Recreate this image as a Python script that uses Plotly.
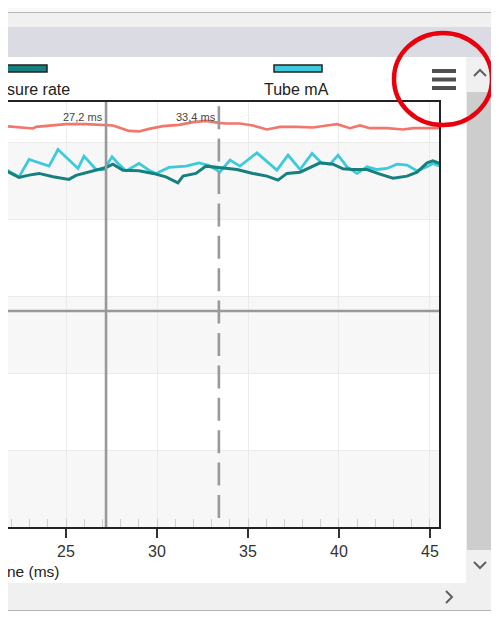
import plotly.graph_objects as go

# ---------------- data ----------------
series_names = ["Exposure rate", "Tube mA"]
legend_visible_text = ["sure rate", "Tube mA"]
x_title_visible = "ne (ms)"
x_ticks = [25, 30, 35, 40, 45]
cursor_times = [27.2, 33.4]
cursor_labels = ["27,2 ms", "33,4 ms"]

red_t = [21.70, 22.42, 23.19, 23.35, 24.29, 25.00, 26.10, 27.03, 27.58, 27.91, 28.46, 29.01,
         29.56, 30.33, 31.21, 31.98, 32.69, 33.41, 33.79, 34.56, 35.27, 36.04, 36.76, 37.69,
         38.57, 39.34, 39.89, 40.60, 41.15, 41.70, 42.64, 43.52, 44.07, 45.16, 45.55]
red_v = [52.07, 51.90, 51.77, 51.98, 52.16, 52.33, 52.33, 52.24, 52.16, 51.90, 51.46, 51.39,
         51.72, 52.07, 52.24, 52.59, 52.76, 52.50, 52.42, 52.42, 52.16, 51.64, 51.98, 51.98,
         51.90, 52.16, 52.33, 51.81, 52.16, 51.81, 51.81, 51.64, 51.81, 51.81, 51.81]

cyan_t = [21.70, 22.42, 22.97, 23.52, 24.07, 24.56, 25.16, 25.66, 25.99, 26.65, 27.09, 27.53,
          27.86, 28.30, 29.01, 29.56, 29.95, 30.66, 31.59, 32.31, 32.86, 33.46, 34.01, 34.56,
          35.49, 36.59, 37.20, 37.86, 38.52, 39.07, 39.51, 39.95, 40.44, 40.99, 41.54, 42.09,
          42.64, 43.19, 43.74, 44.29, 44.84, 45.16, 45.55]
cyan_v = [46.46, 45.50, 47.76, 47.32, 46.89, 49.05, 47.67, 46.59, 48.19, 46.46, 46.46, 48.10,
          47.24, 46.28, 47.24, 46.37, 45.95, 46.72, 46.89, 47.32, 46.98, 46.15, 47.67, 46.89,
          48.61, 46.37, 48.32, 46.46, 48.54, 47.24, 47.15, 48.32, 46.80, 45.95, 46.80, 46.46,
          46.59, 47.15, 47.02, 46.28, 46.80, 47.24, 46.89]

teal_t = [21.70, 22.42, 22.97, 23.52, 24.29, 25.16, 25.55, 26.65, 27.20, 27.58, 28.13, 29.01,
          29.78, 30.49, 31.15, 31.43, 32.14, 32.69, 33.46, 34.40, 35.27, 36.04, 36.65, 37.14,
          37.86, 38.41, 38.96, 39.67, 40.22, 40.77, 41.54, 42.25, 42.97, 43.74, 44.29, 44.84,
          45.16, 45.55]
teal_v = [46.28, 45.43, 45.73, 45.95, 45.51, 45.17, 45.69, 46.37, 46.72, 47.15, 46.37, 46.28,
          45.95, 45.51, 44.73, 45.60, 45.95, 46.89, 46.72, 46.46, 45.95, 45.60, 45.08, 45.95,
          46.11, 46.72, 47.32, 47.15, 46.54, 46.46, 46.46, 45.85, 45.34, 45.60, 46.11, 47.32,
          47.58, 47.24]

hline_value = 28.13
x_range = [21.813, 45.495]
y_range = [0.15, 55.2]

# ---------------- layout helpers ----------------
# the page body has an 8px margin; work in page pixels and convert
OFF = 8
W, H = 499 - OFF, 619 - 2 * OFF
L, R, T, B = 8, 439, 102, 527   # plot area in page pixels


def PX(x):
    return (x - L) / (R - L)


def PY(y):
    return (B - y) / (B - T)


def path(points, close=False):
    s = "M " + " L ".join(f"{PX(x):.5f},{PY(y):.5f}" for x, y in points)
    return s + (" Z" if close else "")


RED = "#f2766a"
CYAN = "#3ec9dd"
TEAL = "#16807f"
FONT = "Liberation Sans, Arial, sans-serif"

fig = go.Figure()
fig.add_trace(go.Scatter(x=red_t, y=red_v, mode="lines", name="Red",
                         line=dict(color=RED, width=2.6), hoverinfo="skip"))
fig.add_trace(go.Scatter(x=cyan_t, y=cyan_v, mode="lines", name=series_names[1],
                         line=dict(color=CYAN, width=2.8), hoverinfo="skip"))
fig.add_trace(go.Scatter(x=teal_t, y=teal_v, mode="lines", name=series_names[0],
                         line=dict(color=TEAL, width=3), hoverinfo="skip"))

shapes = []
# window chrome
shapes.append(dict(type="rect", xref="paper", yref="paper", x0=PX(8), x1=PX(499), y0=PY(8), y1=PY(12),
                   fillcolor="#f8f8f8", line_width=0, layer="below"))
shapes.append(dict(type="rect", xref="paper", yref="paper", x0=PX(8), x1=PX(499), y0=PY(13), y1=PY(27),
                   fillcolor="#f0f0f0", line_width=0, layer="below"))
shapes.append(dict(type="line", xref="paper", yref="paper", x0=PX(8), x1=PX(499), y0=PY(12.5), y1=PY(12.5),
                   line=dict(color="#b4b4b4", width=1), layer="below"))
shapes.append(dict(type="rect", xref="paper", yref="paper", x0=PX(8), x1=PX(499), y0=PY(27), y1=PY(57),
                   fillcolor="#dadbe3", line_width=0, layer="below"))
# vertical scrollbar
shapes.append(dict(type="rect", xref="paper", yref="paper", x0=PX(466), x1=PX(494), y0=PY(57), y1=PY(583),
                   fillcolor="#f0f0f0", line_width=0, layer="below"))
shapes.append(dict(type="rect", xref="paper", yref="paper", x0=PX(467), x1=PX(493), y0=PY(92), y1=PY(550),
                   fillcolor="#cdcdcd", line_width=0, layer="below"))
shapes.append(dict(type="line", xref="paper", yref="paper", x0=PX(495), x1=PX(495), y0=PY(57), y1=PY(611),
                   line=dict(color="#d0d0d0", width=1), layer="below"))
# horizontal scrollbar
shapes.append(dict(type="rect", xref="paper", yref="paper", x0=PX(8), x1=PX(495), y0=PY(583), y1=PY(610),
                   fillcolor="#f0f0f0", line_width=0, layer="below"))
shapes.append(dict(type="line", xref="paper", yref="paper", x0=PX(8), x1=PX(499), y0=PY(610.5), y1=PY(610.5),
                   line=dict(color="#b4b4b4", width=1), layer="below"))
# chevrons
for pts in ([(474, 76), (480, 70), (486, 76)],
            [(474, 562), (480, 568), (486, 562)],
            [(446, 591), (452, 597), (446, 603)]):
    shapes.append(dict(type="path", xref="paper", yref="paper", path=path(pts),
                       line=dict(color="#606060", width=2)))

# alternating bands in the plot area
for lo in range(0, 60, 20):
    shapes.append(dict(type="rect", xref="paper", yref="y", x0=0, x1=1, y0=lo, y1=min(lo + 10, y_range[1]),
                       fillcolor="#f7f7f7", line_width=0, layer="below"))

# horizontal cursor line
shapes.append(dict(type="line", xref="paper", yref="y", x0=0, x1=1, y0=hline_value, y1=hline_value,
                   line=dict(color="#999999", width=2.6)))
# vertical cursors
shapes.append(dict(type="line", xref="x", yref="paper", x0=cursor_times[0], x1=cursor_times[0], y0=0, y1=1,
                   line=dict(color="#999999", width=2.6)))
shapes.append(dict(type="line", xref="x", yref="paper", x0=cursor_times[1], x1=cursor_times[1],
                   y0=PY(518), y1=1, line=dict(color="#999999", width=2.6, dash="23px,9.4px")))

# legend swatches
shapes.append(dict(type="rect", xref="paper", yref="paper", x0=PX(7), x1=PX(47), y0=PY(65), y1=PY(72),
                   fillcolor=TEAL, line=dict(color="#222222", width=1.5)))
shapes.append(dict(type="rect", xref="paper", yref="paper", x0=PX(274), x1=PX(322), y0=PY(65), y1=PY(72),
                   fillcolor=CYAN, line=dict(color="#222222", width=1.5)))
# hamburger menu icon
for yc in (71, 79.5, 88):
    shapes.append(dict(type="rect", xref="paper", yref="paper", x0=PX(432), x1=PX(456),
                       y0=PY(yc - 2), y1=PY(yc + 2), fillcolor="#505050", line_width=0))
# red highlight circle
shapes.append(dict(type="circle", xref="paper", yref="paper", x0=PX(394), x1=PX(492), y0=PY(125), y1=PY(33),
                   line=dict(color="#e8000c", width=4.5)))

annotations = []
for t, lab in zip(cursor_times, cursor_labels):
    annotations.append(dict(x=t, xref="x", y=PY(117), yref="paper", text=lab, showarrow=False,
                            xanchor="right", yanchor="middle", xshift=-1,
                            font=dict(family=FONT, size=11, color="#444444")))
annotations.append(dict(x=PX(5), xref="paper", y=PY(89), yref="paper", text=legend_visible_text[0],
                        showarrow=False, xanchor="left", yanchor="middle",
                        font=dict(family=FONT, size=16, color="#222222")))
annotations.append(dict(x=PX(296.5), xref="paper", y=PY(89), yref="paper", text=legend_visible_text[1],
                        showarrow=False, xanchor="center", yanchor="middle",
                        font=dict(family=FONT, size=16, color="#222222")))
annotations.append(dict(x=PX(5), xref="paper", y=PY(571), yref="paper", text=x_title_visible,
                        showarrow=False, xanchor="left", yanchor="middle",
                        font=dict(family=FONT, size=15.5, color="#222222")))

fig.update_layout(
    width=W, height=H,
    margin=dict(l=L - OFF, r=(499 - R), t=T - OFF, b=(619 - OFF) - B, pad=0),
    paper_bgcolor="white", plot_bgcolor="white",
    showlegend=False,
    shapes=shapes, annotations=annotations,
    font=dict(family=FONT, color="#333333"),
    xaxis=dict(range=x_range, tickvals=x_ticks, ticks="outside", ticklen=9, tickwidth=1.5,
               tickcolor="#333333", showline=True, linecolor="#222222", linewidth=1.5,
               mirror=True, showgrid=True, gridcolor="#ebebeb", gridwidth=1, zeroline=False,
               tickfont=dict(family=FONT, size=16, color="#333333"),
               minor=dict(dtick=1, tick0=0, ticks="inside", ticklen=8, tickcolor="#cfcfcf",
                          tickwidth=1, showgrid=False)),
    yaxis=dict(range=y_range, dtick=10, tick0=0, showticklabels=False, ticks="",
               side="right", showline=True, linecolor="#222222", linewidth=1.5, mirror=False,
               showgrid=True, gridcolor="#ebebeb", gridwidth=1, zeroline=False),
)

fig.write_html("out.html")
